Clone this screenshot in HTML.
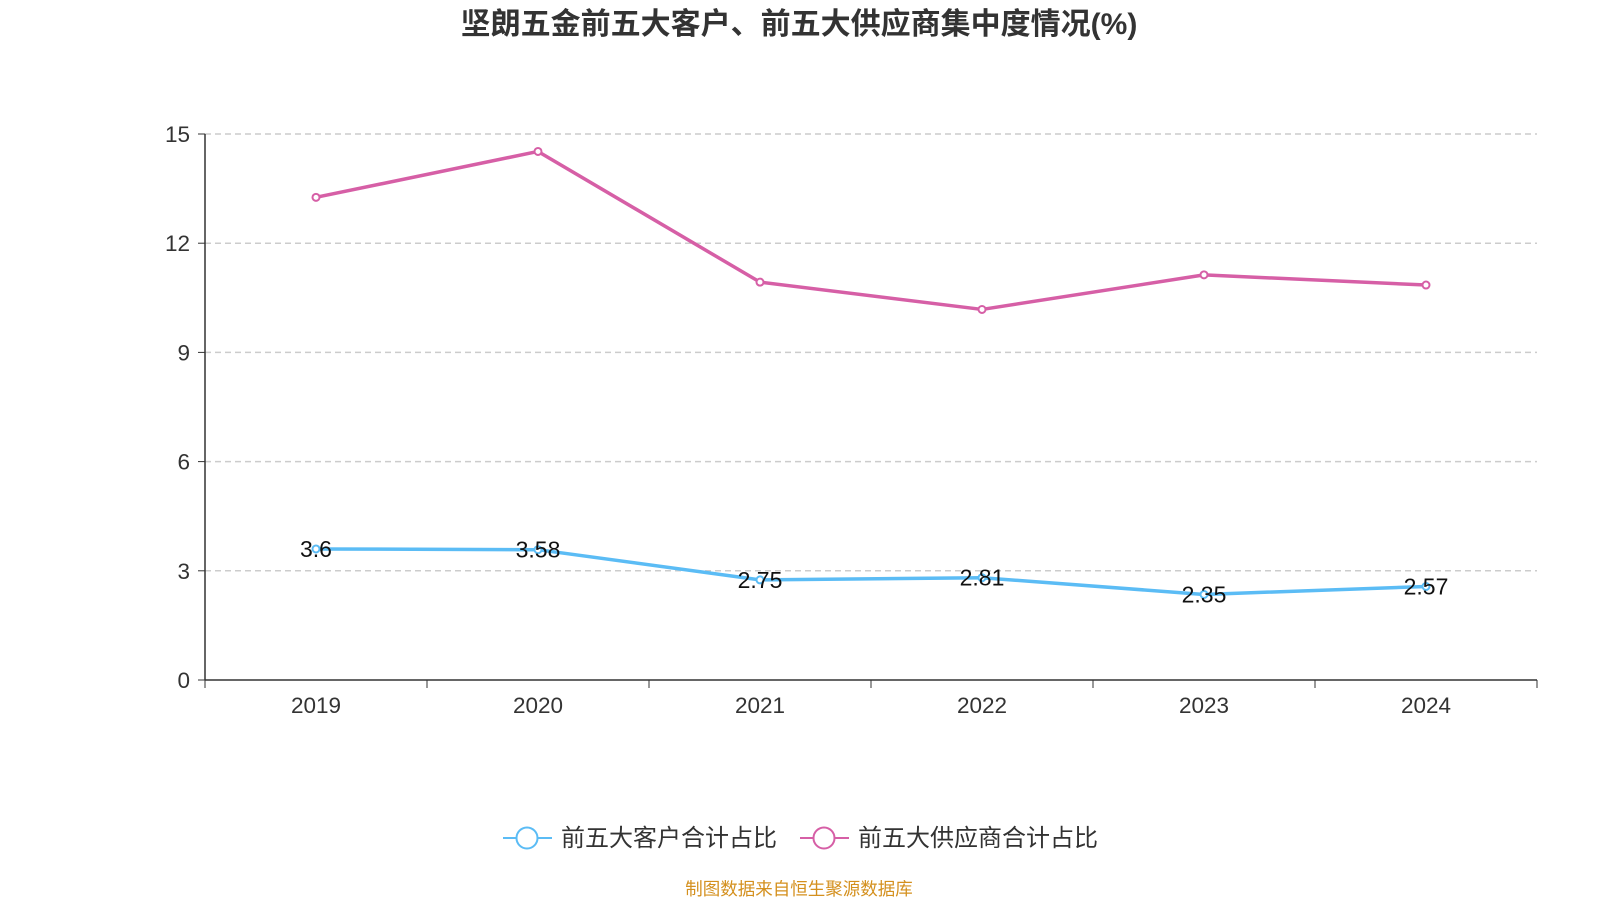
<!DOCTYPE html>
<html><head><meta charset="utf-8"><style>
body{margin:0;background:#fff;width:1600px;height:900px;overflow:hidden}
svg text{font-family:"Liberation Sans","Noto Sans CJK SC",sans-serif}
</style></head><body>
<svg id="chart" width="1600" height="900">
<text x="799" y="34" text-anchor="middle" font-size="30" font-weight="bold" fill="#333">坚朗五金前五大客户、前五大供应商集中度情况(%)</text>
<g id="grid"></g><g id="axes"></g><g id="series"></g>
<g>
<g>
<line x1="503" y1="838" x2="552" y2="838" stroke="#5bbcf5" stroke-width="2"/>
<circle cx="527" cy="838" r="10.5" fill="#fff" stroke="#5bbcf5" stroke-width="2"/>
<text x="561" y="846" font-size="24" fill="#333">前五大客户合计占比</text></g>
<g>
<line x1="800" y1="838" x2="849" y2="838" stroke="#d65fa6" stroke-width="2"/>
<circle cx="824" cy="838" r="10.5" fill="#fff" stroke="#d65fa6" stroke-width="2"/>
<text x="858" y="846" font-size="24" fill="#333">前五大供应商合计占比</text></g>
</g>
<text x="799" y="895" text-anchor="middle" font-size="17.5" fill="#d4901e">制图数据来自恒生聚源数据库</text>
</svg>
<script>
const categories=["2019","2020","2021","2022","2023","2024"];
const customers=[3.6,3.58,2.75,2.81,2.35,2.57];
const suppliers=[13.26,14.52,10.93,10.18,11.13,10.85];
const yTicks=[0,3,6,9,12,15];
const NS="http://www.w3.org/2000/svg";
const x0=205,x1=1537,yb=680,yt=134,yMax=15;
const band=(x1-x0)/categories.length;
const X=i=>x0+band*(i+0.5);
const Y=v=>yb-(v/yMax)*(yb-yt);
function mk(tag,attrs,parent,txt){const e=document.createElementNS(NS,tag);for(const k in attrs)e.setAttribute(k,attrs[k]);if(txt!==undefined)e.textContent=txt;document.getElementById(parent).appendChild(e);return e;}
yTicks.forEach(t=>{
 if(t>0){const g=mk('line',{x1:x0,x2:x1,y1:Y(t),y2:Y(t),stroke:'#ccc','stroke-dasharray':'6,4','stroke-width':1.5},'grid');
 
 }
 mk('line',{x1:x0-7,x2:x0,y1:Y(t),y2:Y(t),stroke:'#333'},'axes');
 const l=mk('text',{x:x0-15,y:Y(t)+8,'text-anchor':'end','font-size':22.5,fill:'#333'},'axes',t);
 
 
});
mk('line',{x1:x0,x2:x0,y1:yt,y2:yb,stroke:'#333','stroke-width':1.5},'axes');
mk('line',{x1:x0,x2:x1,y1:yb,y2:yb,stroke:'#333','stroke-width':1.5},'axes');
for(let i=0;i<=categories.length;i++)mk('line',{x1:x0+band*i,x2:x0+band*i,y1:yb,y2:yb+8,stroke:'#333'},'axes');
categories.forEach((c,i)=>{const l=mk('text',{x:X(i),y:yb+33,'text-anchor':'middle','font-size':22.5,fill:'#333'},'axes',c);
 
 });
function series(vals,color,name,labels){
 const p=mk('polyline',{points:vals.map((v,i)=>X(i)+','+Y(v)).join(' '),fill:'none',stroke:color,'stroke-width':3.5,'stroke-linejoin':'round'},'series');
 
 
 vals.forEach((v,i)=>{
  const c=mk('circle',{cx:X(i),cy:Y(v),r:3.5,fill:'#fff',stroke:color,'stroke-width':2},'series');
  
  
  if(labels){const t=mk('text',{x:X(i),y:Y(v)+8,'text-anchor':'middle','font-size':23,fill:'#111'},'series',v);
   
   }
 });
}
series(suppliers,'#d65fa6','suppliers',false);
series(customers,'#5bbcf5','customers',true);
</script>
</body></html>
